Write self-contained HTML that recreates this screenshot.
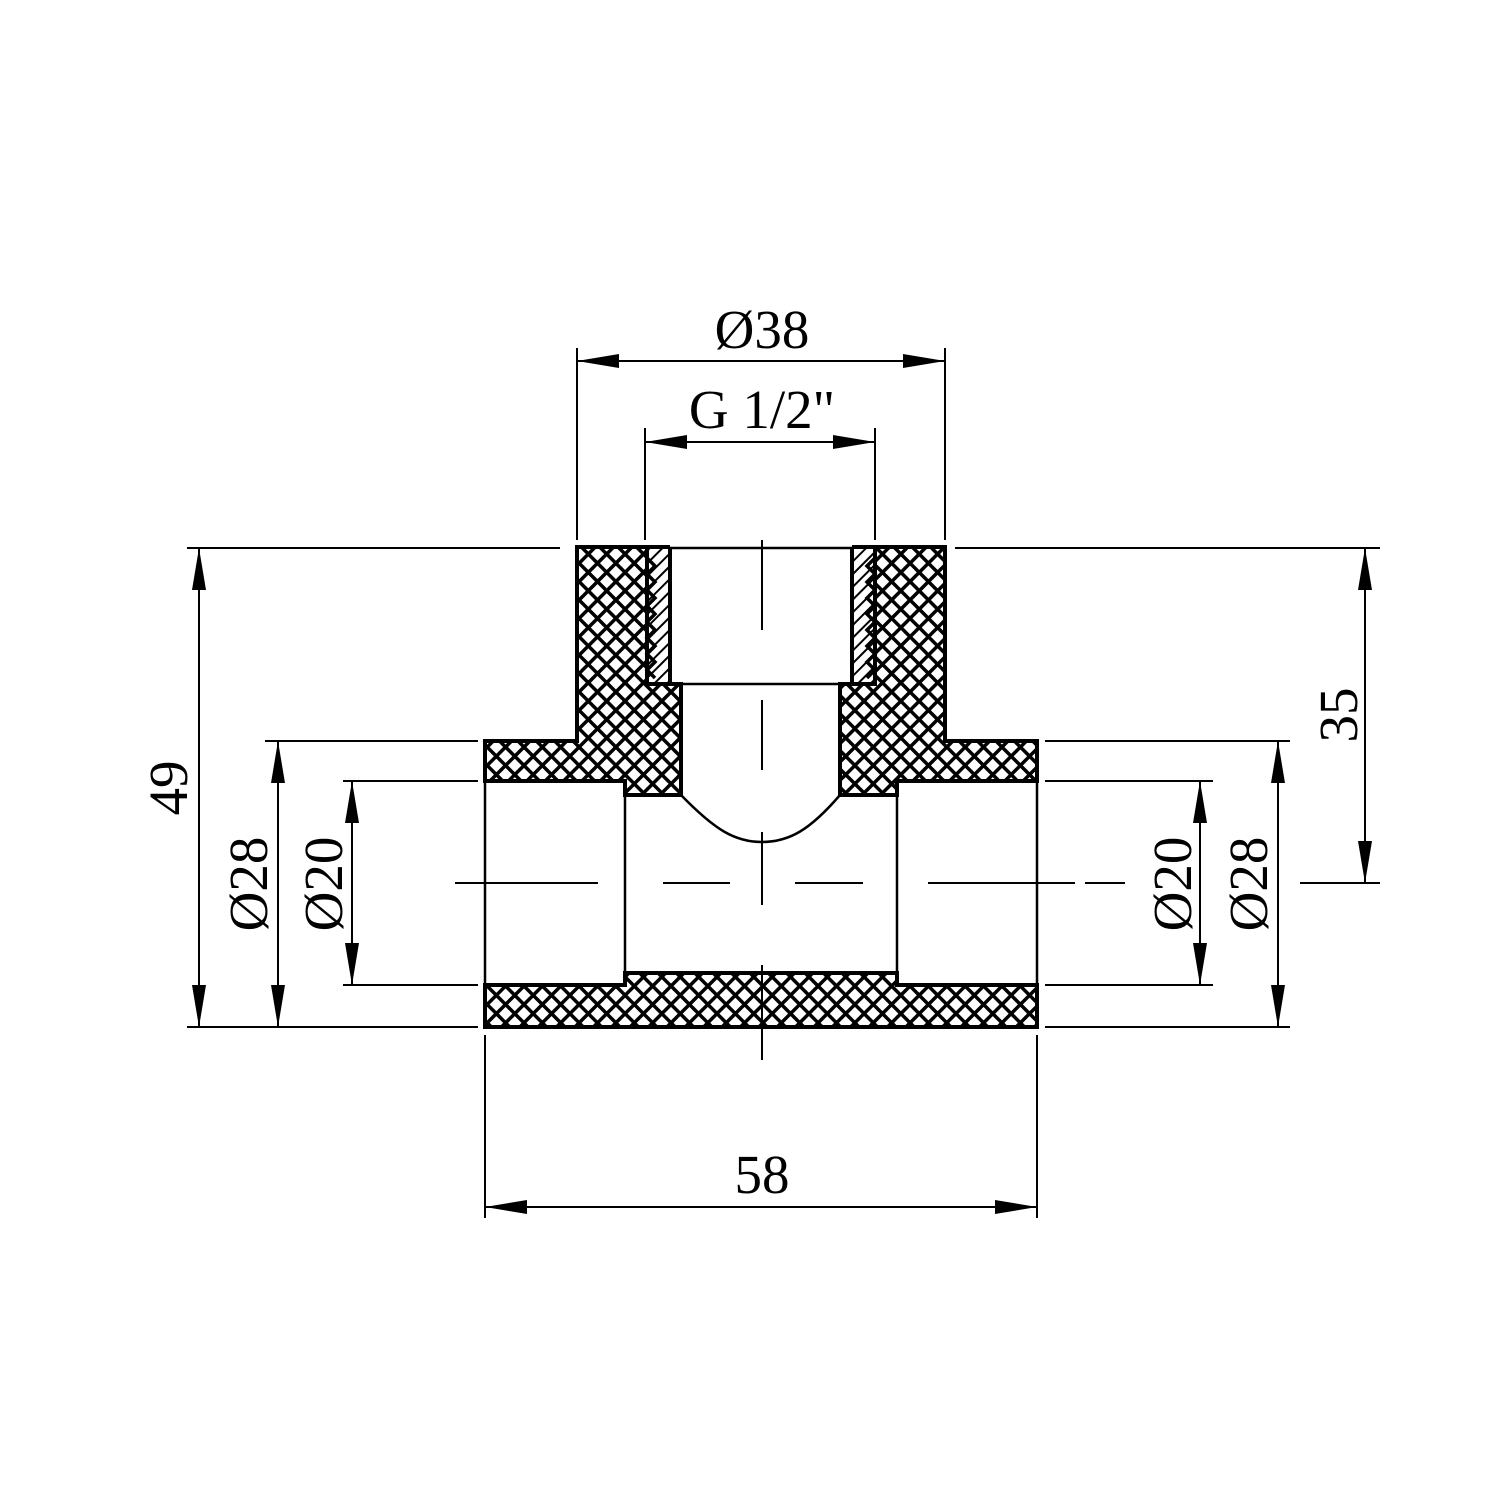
<!DOCTYPE html>
<html><head><meta charset="utf-8"><style>html,body{margin:0;padding:0;background:#fff}svg{display:block}text{font-family:"Liberation Serif",serif;font-size:55px;fill:#000}</style></head>
<body>
<svg width="1500" height="1500" viewBox="0 0 1500 1500" xmlns="http://www.w3.org/2000/svg">
<defs>
<pattern id="x" width="13" height="13" patternUnits="userSpaceOnUse" patternTransform="rotate(45)">
<rect width="13" height="13" fill="#fff"/>
<rect x="0" y="0" width="13" height="3.5" fill="#000"/>
<rect x="0" y="0" width="3.5" height="13" fill="#000"/>
</pattern>
<pattern id="h" width="9" height="9" patternUnits="userSpaceOnUse" patternTransform="rotate(-45)">
<rect width="9" height="9" fill="#fff"/>
<rect x="0" y="0" width="9" height="2" fill="#000"/>
</pattern>
</defs>
<rect x="647" y="547" width="23" height="137" fill="url(#h)"/>
<rect x="852" y="547" width="23" height="137" fill="url(#h)"/>
<g stroke="#000" stroke-width="4" stroke-linejoin="miter">
<polygon fill="url(#x)" points="577,547 647,547 647,684 681,684 681,795 625,795 625,781 485,781 485,741 577,741"/>
<polygon fill="url(#x)" points="945,547 875,547 875,684 840,684 840,795 897,795 897,781 1037,781 1037,741 945,741"/>
<polygon fill="url(#x)" points="485,985 625,985 625,973 897,973 897,985 1037,985 1037,1027 485,1027"/>
<line x1="647" y1="547" x2="670" y2="547"/>
<line x1="852" y1="547" x2="875" y2="547"/>
<line x1="670" y1="547" x2="670" y2="684"/>
<line x1="852" y1="547" x2="852" y2="684"/>
<line x1="647" y1="684" x2="681" y2="684"/>
<line x1="840" y1="684" x2="875" y2="684"/>
</g>
<g stroke="#000" stroke-width="3.5" fill="none">
<polyline points="647,558 655,566 647,574 655,582 647,590 655,598 647,606 655,614 647,622 655,630 647,638 655,646 647,654 655,662 647,670 655,678"/>
<polyline points="875,558 867,566 875,574 867,582 875,590 867,598 875,606 867,614 875,622 867,630 875,638 867,646 875,654 867,662 875,670 867,678"/>
</g>
<g stroke="#000" stroke-width="2.5" fill="none">
<line x1="670" y1="548" x2="852" y2="548"/>
<line x1="670" y1="684" x2="852" y2="684"/>
<line x1="485" y1="781" x2="485" y2="985"/>
<line x1="1037" y1="781" x2="1037" y2="985"/>
<line x1="625" y1="795" x2="625" y2="973"/>
<line x1="897" y1="795" x2="897" y2="973"/>
<path d="M681,795 C715,830 735,842 762,842 C789,842 810,830 840,795"/>
</g>
<g stroke="#000" stroke-width="2" fill="none">
<line x1="455" y1="883" x2="598" y2="883"/>
<line x1="663" y1="883" x2="730" y2="883"/>
<line x1="795" y1="883" x2="863" y2="883"/>
<line x1="928" y1="883" x2="1075" y2="883"/>
<line x1="1085" y1="883" x2="1125" y2="883"/>
<line x1="762" y1="540" x2="762" y2="630"/>
<line x1="762" y1="700" x2="762" y2="770"/>
<line x1="762" y1="832" x2="762" y2="905"/>
<line x1="762" y1="965" x2="762" y2="1060"/>
<line x1="577" y1="348" x2="577" y2="540"/>
<line x1="945" y1="348" x2="945" y2="540"/>
<line x1="645" y1="428" x2="645" y2="540"/>
<line x1="875" y1="428" x2="875" y2="540"/>
<line x1="187" y1="548" x2="560" y2="548"/>
<line x1="955" y1="548" x2="1380" y2="548"/>
<line x1="187" y1="1027" x2="478" y2="1027"/>
<line x1="265" y1="741" x2="478" y2="741"/>
<line x1="343" y1="781" x2="478" y2="781"/>
<line x1="343" y1="985" x2="478" y2="985"/>
<line x1="1045" y1="741" x2="1290" y2="741"/>
<line x1="1045" y1="781" x2="1213" y2="781"/>
<line x1="1045" y1="985" x2="1213" y2="985"/>
<line x1="1045" y1="1027" x2="1290" y2="1027"/>
<line x1="1300" y1="883" x2="1380" y2="883"/>
<line x1="485" y1="1035" x2="485" y2="1218"/>
<line x1="1037" y1="1035" x2="1037" y2="1218"/>
<line x1="577" y1="361" x2="945" y2="361"/>
<line x1="645" y1="442" x2="875" y2="442"/>
<line x1="485" y1="1207" x2="1037" y2="1207"/>
<line x1="199" y1="548" x2="199" y2="1027"/>
<line x1="278" y1="741" x2="278" y2="1027"/>
<line x1="352" y1="781" x2="352" y2="985"/>
<line x1="1200" y1="781" x2="1200" y2="985"/>
<line x1="1278" y1="741" x2="1278" y2="1027"/>
<line x1="1365" y1="548" x2="1365" y2="883"/>
</g>
<g fill="#000">
<polygon points="577,361 619,354 619,368"/><polygon points="945,361 903,354 903,368"/>
<polygon points="645,442 687,435 687,449"/><polygon points="875,442 833,435 833,449"/>
<polygon points="485,1207 527,1200 527,1214"/><polygon points="1037,1207 995,1200 995,1214"/>
<polygon points="199,548 192,590 206,590"/><polygon points="199,1027 192,985 206,985"/>
<polygon points="278,741 271,783 285,783"/><polygon points="278,1027 271,985 285,985"/>
<polygon points="352,781 345,823 359,823"/><polygon points="352,985 345,943 359,943"/>
<polygon points="1200,781 1193,823 1207,823"/><polygon points="1200,985 1193,943 1207,943"/>
<polygon points="1278,741 1271,783 1285,783"/><polygon points="1278,1027 1271,985 1285,985"/>
<polygon points="1365,548 1358,590 1372,590"/><polygon points="1365,883 1358,841 1372,841"/>
</g>
<text x="762" y="348" text-anchor="middle">Ø38</text>
<text x="762" y="428" text-anchor="middle">G 1/2"</text>
<text x="762" y="1193" text-anchor="middle">58</text>
<text transform="translate(187,788) rotate(-90)" text-anchor="middle">49</text>
<text transform="translate(267,884) rotate(-90)" text-anchor="middle">Ø28</text>
<text transform="translate(342,884) rotate(-90)" text-anchor="middle">Ø20</text>
<text transform="translate(1191,884) rotate(-90)" text-anchor="middle">Ø20</text>
<text transform="translate(1267,884) rotate(-90)" text-anchor="middle">Ø28</text>
<text transform="translate(1357,715) rotate(-90)" text-anchor="middle">35</text>
</svg>
</body></html>
